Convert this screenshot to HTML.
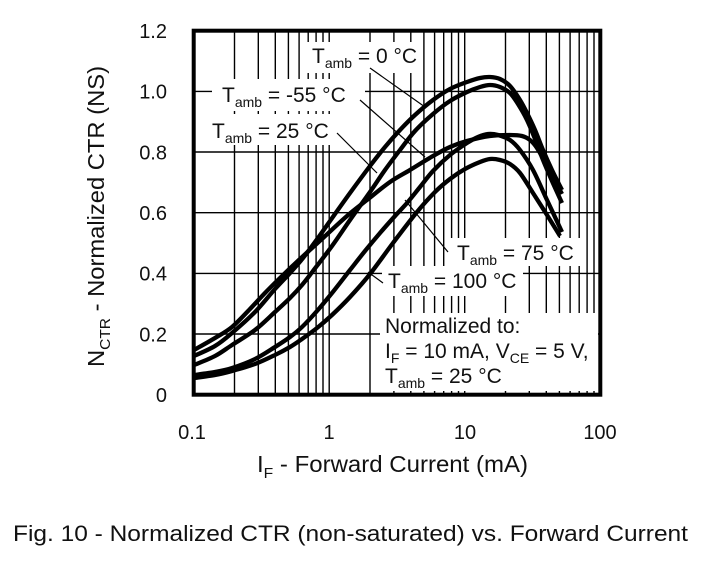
<!DOCTYPE html>
<html><head><meta charset="utf-8"><style>
html,body{margin:0;padding:0;background:#fff;}
svg{display:block;}
text{font-family:"Liberation Sans",Arial,sans-serif;fill:#111;}
</style></head><body>
<svg id="s" width="701" height="569" viewBox="0 0 701 569" xmlns="http://www.w3.org/2000/svg">
<rect width="701" height="569" fill="#fff"/>
<g stroke="#000" stroke-width="1.4">
<line x1="234.5" y1="30.7" x2="234.5" y2="394.7"/><line x1="258.3" y1="30.7" x2="258.3" y2="394.7"/>
<line x1="275.3" y1="30.7" x2="275.3" y2="394.7"/><line x1="288.4" y1="30.7" x2="288.4" y2="394.7"/>
<line x1="299.1" y1="30.7" x2="299.1" y2="394.7"/><line x1="308.2" y1="30.7" x2="308.2" y2="394.7"/>
<line x1="316.1" y1="30.7" x2="316.1" y2="394.7"/><line x1="323.0" y1="30.7" x2="323.0" y2="394.7"/>
<line x1="329.2" y1="30.7" x2="329.2" y2="394.7"/>
<line x1="370.0" y1="30.7" x2="370.0" y2="394.7"/><line x1="393.9" y1="30.7" x2="393.9" y2="394.7"/>
<line x1="410.8" y1="30.7" x2="410.8" y2="394.7"/><line x1="423.9" y1="30.7" x2="423.9" y2="394.7"/>
<line x1="434.6" y1="30.7" x2="434.6" y2="394.7"/><line x1="443.7" y1="30.7" x2="443.7" y2="394.7"/>
<line x1="451.6" y1="30.7" x2="451.6" y2="394.7"/><line x1="458.5" y1="30.7" x2="458.5" y2="394.7"/>
<line x1="464.7" y1="30.7" x2="464.7" y2="394.7"/>
<line x1="505.5" y1="30.7" x2="505.5" y2="394.7"/><line x1="529.3" y1="30.7" x2="529.3" y2="394.7"/>
<line x1="546.3" y1="30.7" x2="546.3" y2="394.7"/><line x1="559.4" y1="30.7" x2="559.4" y2="394.7"/>
<line x1="570.1" y1="30.7" x2="570.1" y2="394.7"/><line x1="579.2" y1="30.7" x2="579.2" y2="394.7"/>
<line x1="587.1" y1="30.7" x2="587.1" y2="394.7"/><line x1="594.0" y1="30.7" x2="594.0" y2="394.7"/>
<line x1="193.7" y1="334.0" x2="600.3" y2="334.0"/><line x1="193.7" y1="273.4" x2="600.3" y2="273.4"/>
<line x1="193.7" y1="212.7" x2="600.3" y2="212.7"/><line x1="193.7" y1="152.0" x2="600.3" y2="152.0"/>
<line x1="193.7" y1="91.4" x2="600.3" y2="91.4"/>
</g>
<g fill="#fff">
<rect x="305" y="42" width="118" height="31"/>
<rect x="212" y="79" width="153" height="32"/>
<rect x="207" y="114" width="130" height="31"/>
<rect x="450" y="238" width="132" height="28"/>
<rect x="382" y="266" width="141" height="30"/>
<rect x="380" y="313" width="218" height="78"/>
</g>
<g font-size="21">
<text x="312" y="63">T<tspan font-size="14" dy="5">amb</tspan><tspan dy="-5"> = 0 °C</tspan></text>
<text x="222" y="102">T<tspan font-size="14" dy="5">amb</tspan><tspan dy="-5"> = -55 °C</tspan></text>
<text x="212" y="138">T<tspan font-size="14" dy="5">amb</tspan><tspan dy="-5"> = 25 °C</tspan></text>
<text x="457" y="260">T<tspan font-size="14" dy="5">amb</tspan><tspan dy="-5"> = 75 °C</tspan></text>
<text x="388" y="288">T<tspan font-size="14" dy="5">amb</tspan><tspan dy="-5"> = 100 °C</tspan></text>
<text x="385" y="333">Normalized to:</text>
<text x="385" y="358">I<tspan font-size="14" dy="5">F</tspan><tspan dy="-5"> = 10 mA, V</tspan><tspan font-size="14" dy="5">CE</tspan><tspan dy="-5"> = 5 V,</tspan></text>
<text x="385" y="383">T<tspan font-size="14" dy="5">amb</tspan><tspan dy="-5"> = 25 °C</tspan></text>
</g>
<g fill="none" stroke="#000" stroke-width="4.3" stroke-linejoin="round" stroke-linecap="butt">
<path class="cv" data-p="194,356 215,346 232,333 255,312 275,289 290,273 303,258 318,238 330,221 350,193 370,166 385,147 400,130 415,115 433,100 450,89 467,82 480,78 490,77 500,79 510,86 520,100 527,113 535,130 543,150 552,170 562,190"/>
<path class="cv" data-p="194,365 215,356 232,345 255,330 275,312 290,298 302,285 313,271 332,246 350,220 370,192 385,170 400,150 415,131 433,114 450,101 467,92 480,87 490,85 500,87 510,93 518,104 527,120 535,139 543,160 552,181 562,203"/>
<path class="cv" data-p="194,350 215,338 232,327 250,309 265,293 280,278 300,259 323,238 347,216 367,200 390,182 410,170 433,156 450,147 467,141 490,136 510,135 522,136 530,140 537,148 545,162 553,177 562,194"/>
<path class="cv" data-p="194,375 215,372 232,368 255,359 275,347 290,337 302,327 317,311 332,293 350,270 365,251 380,233 395,216 407,203 420,187 433,171 450,155 467,143 478,137 488,134 498,135 510,140 520,150 533,170 547,200 562,232"/>
<path class="cv" data-p="194,378 215,375 232,371 255,364 275,355 290,347 302,339 317,328 332,315 350,297 370,274 393,243 417,212 435,192 450,179 465,169 480,162 490,159 500,160 510,164 520,173 533,193 547,215 560,236"/>
</g>
<g stroke="#000" stroke-width="1.2">
<line x1="370" y1="68" x2="425" y2="107"/>
<line x1="360" y1="100" x2="425" y2="157"/>
<line x1="337" y1="133" x2="377" y2="173"/>
<line x1="448" y1="252" x2="405" y2="200"/>
<line x1="383" y1="283" x2="368" y2="272"/>
</g>
<rect x="193.7" y="30.7" width="406.6" height="364" fill="none" stroke="#000" stroke-width="4"/>
<g font-size="20" text-anchor="end">
<text x="167" y="38">1.2</text>
<text x="167" y="98.7">1.0</text>
<text x="167" y="159.3">0.8</text>
<text x="167" y="220">0.6</text>
<text x="167" y="280.7">0.4</text>
<text x="167" y="341.3">0.2</text>
<text x="167" y="402">0</text>
</g>
<g font-size="20" text-anchor="middle">
<text x="192" y="439">0.1</text>
<text x="329" y="439">1</text>
<text x="465" y="439">10</text>
<text x="600" y="439">100</text>
</g>
<text x="257" y="472" font-size="23" textLength="271" lengthAdjust="spacingAndGlyphs">I<tspan font-size="15" dy="6">F</tspan><tspan dy="-6"> - Forward Current (mA)</tspan></text>
<text transform="translate(104,367) rotate(-90)" x="0" y="0" font-size="23" textLength="301" lengthAdjust="spacingAndGlyphs">N<tspan font-size="15" dy="6">CTR</tspan><tspan dy="-6"> - Normalized CTR (NS)</tspan></text>
<text x="13" y="541" font-size="22" textLength="675" lengthAdjust="spacingAndGlyphs">Fig. 10 - Normalized CTR (non-saturated) vs. Forward Current</text>
</svg>
<script>
(function(){
var ps=document.querySelectorAll('path.cv');
for(var k=0;k<ps.length;k++){
var raw=ps[k].getAttribute('data-p').trim().split(/\s+/).map(function(s){var a=s.split(',');return [+a[0],+a[1]];});
var d='M'+raw[0][0]+','+raw[0][1];
for(var i=0;i<raw.length-1;i++){
var p0=raw[i-1]||raw[i],p1=raw[i],p2=raw[i+1],p3=raw[i+2]||raw[i+1];
var c1x=p1[0]+(p2[0]-p0[0])/6,c1y=p1[1]+(p2[1]-p0[1])/6;
var c2x=p2[0]-(p3[0]-p1[0])/6,c2y=p2[1]-(p3[1]-p1[1])/6;
d+=' C'+c1x.toFixed(2)+','+c1y.toFixed(2)+' '+c2x.toFixed(2)+','+c2y.toFixed(2)+' '+p2[0]+','+p2[1];
}
ps[k].setAttribute('d',d);
}
})();
</script>
</body></html>
